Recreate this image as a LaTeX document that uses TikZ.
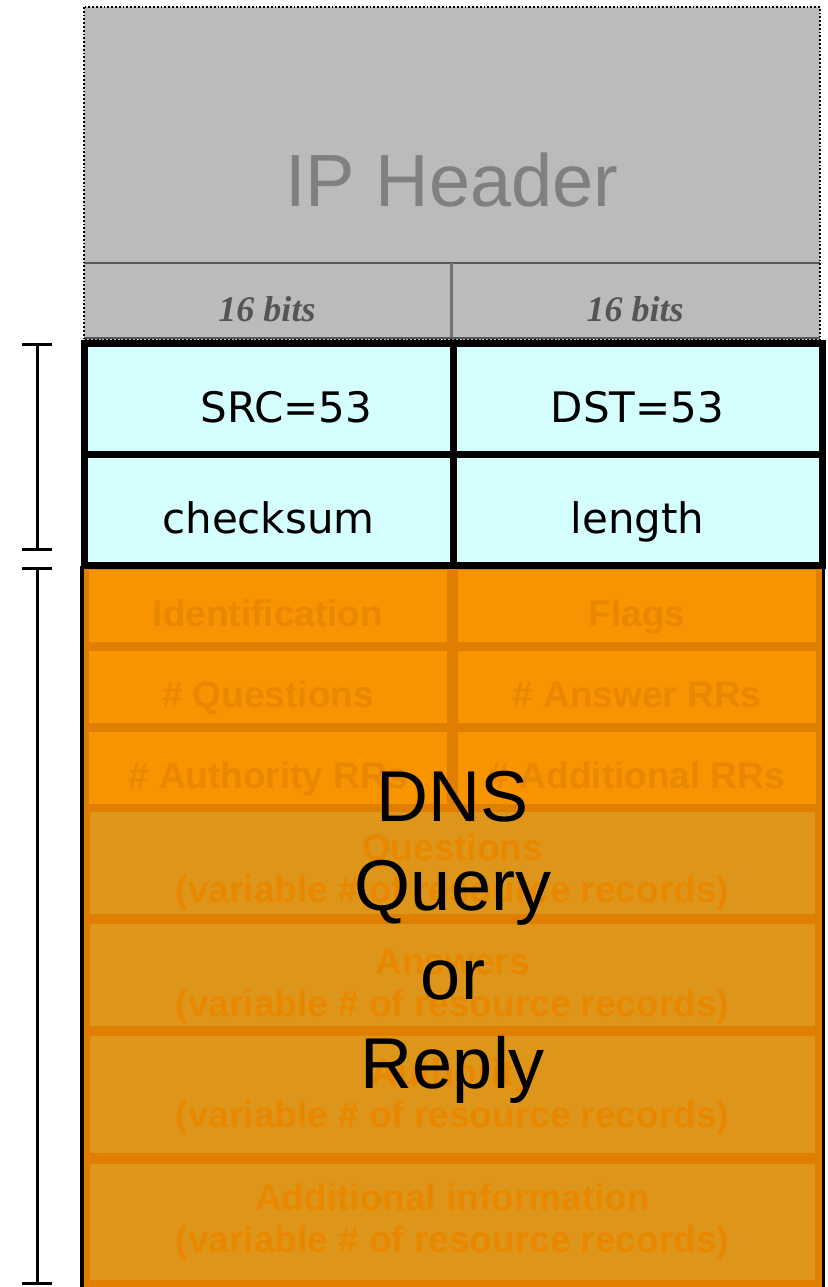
\documentclass[tikz,border=0pt]{standalone}
\usepackage{fontspec}
\setmainfont{Liberation Sans}
\newfontfamily\bitsfont{Liberation Serif}
\newfontfamily\portfont{DejaVu Sans}
\usetikzlibrary{positioning,arrows.meta}
\definecolor{hdrgray}{HTML}{BBBBBB}
\definecolor{hdrtext}{HTML}{808080}
\definecolor{bitstext}{HTML}{555555}
\definecolor{udpcyan}{HTML}{D5FFFF}
\definecolor{dnsorange}{HTML}{F79400}
\definecolor{dnsbody}{HTML}{DE961A}
\definecolor{dnsline}{HTML}{E07E00}
\definecolor{dnstext}{HTML}{E88800}

\tikzset{
  udpcell/.style={draw=black, line width=7pt, fill=udpcyan, minimum width=369pt,
    minimum height=111pt, inner sep=0pt, text height=47pt, text depth=0pt,
    font=\portfont\fontsize{42}{50}\selectfont},
  bitslabel/.style={text=bitstext, font=\bitsfont\bfseries\itshape\fontsize{36}{40}\selectfont},
  dnscell/.style={fill=dnsorange, minimum width=358pt, minimum height=72pt, inner sep=0pt,
    text height=40pt, text depth=0pt, text=dnstext, font=\bfseries\fontsize{37}{42}\selectfont},
  dnsrec/.style={fill=dnsbody, minimum width=725pt, inner sep=0pt, text=dnstext, align=center,
    font=\bfseries\fontsize{37}{42}\selectfont},
  span/.style={line width=3pt, arrows={Bar[width=30pt]-Bar[width=30pt]}}
}
\newcommand{\lowerby}[1]{\rule{0pt}{#1}}

\begin{document}
\begin{tikzpicture}[x=1pt, y=-1pt]
\useasboundingbox (0,0) rectangle (827,1287);
% IP header block
\fill[hdrgray] (84,7) rectangle (820,340);
\draw[black!65, line width=2pt] (84,263) -- (820,263);
\draw[black!55, line width=3pt] (451,263) -- (451,340);
\draw[black!65, line width=1.5pt] (84,338) -- (820,338);
\draw[dotted, line width=1.8pt] (84,7) rectangle (820,340);
\node[text=hdrtext, font=\fontsize{74}{80}\selectfont] (iphdr) at (452,180) {IP Header};
\node[bitslabel] (bitsL) at (267,309) {16 bits};
\node[bitslabel] (bitsR) at (635,309) {16 bits};
% DNS message area
\fill[dnsline] (84,566) rectangle (822,1287);
\node[dnscell] (ident) at (268,606) {Identification};
\node[dnscell] (flags) at (637,606) {Flags};
\node[dnscell] (nques) at (268,687) {\# Questions};
\node[dnscell] (nans) at (637,687) {\# Answer RRs};
\node[dnscell] (nauth) at (268,768) {\# Authority RRs};
\node[dnscell] (nadd) at (637,768) {\# Additional RRs};
\node[dnsrec, minimum height=102pt] (ques) at (452.5,863) {\lowerby{45pt}Questions\\(variable \# of resource records)};
\node[dnsrec, minimum height=102pt] (answ) at (452.5,975) {\lowerby{48pt}Answers\\(variable \# of resource records)};
\node[dnsrec, minimum height=117pt] (auth) at (452.5,1094.5) {\lowerby{32pt}Authority\\(variable \# of resource records)};
\node[dnsrec, minimum height=116pt] (addl) at (452.5,1222) {Additional information\\(variable \# of resource records)};
\draw[line width=4pt] (82,566) -- (82,1287);
\draw[line width=3pt] (823,566) -- (823,1287);
% UDP header
\node[udpcell] (src) at (268.5,398.5) {\hspace*{36pt}SRC=53};
\node[udpcell] (dst) at (637.5,398.5) {DST=53};
\node[udpcell] (chk) at (268.5,509.5) {checksum};
\node[udpcell] (len) at (637.5,509.5) {length};
% overlay
\node[align=center, font=\fontsize{72}{89}\selectfont] (dnsmsg) at (453,937) {DNS\\Query\\or\\Reply};
% spans on the left
\coordinate (udptop) at (37,343);
\coordinate (udpbot) at (37,551);
\coordinate (dnstop) at (37,567);
\coordinate (dnsbot) at (37,1285);
\draw[span] (udptop) -- (udpbot);
\draw[span] (dnstop) -- (dnsbot);
\end{tikzpicture}
\end{document}
